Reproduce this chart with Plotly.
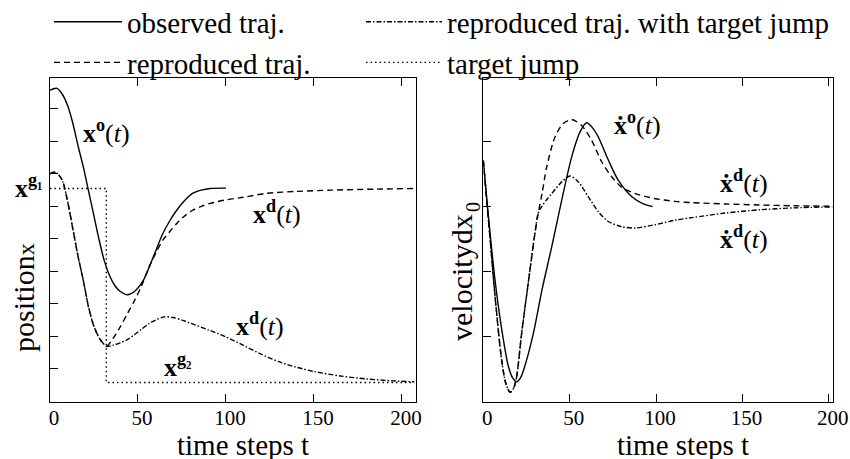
import plotly.graph_objects as go

# ---------------- data ----------------
# left panel: position
t_pos_obs = [0, 2, 4, 7, 10, 13, 16, 19, 22, 25, 28, 31, 34, 37, 40, 44, 48, 53, 58, 64, 68, 72, 76, 81, 86, 91, 100]
pos_obs = [9.57, 9.62, 9.63, 9.45, 9.1, 8.55, 7.85, 7.2, 6.45, 5.7, 4.95, 4.3, 3.85, 3.55, 3.38, 3.28, 3.38,
           3.72, 4.35, 5.15, 5.55, 5.88, 6.15, 6.4, 6.5, 6.55, 6.56]

t_pos_rep = [0, 2, 4, 7, 10, 13, 16, 19, 22, 25, 28, 30, 32, 36, 40, 44, 48, 52, 56, 60, 64, 68, 72, 76, 81,
             86, 91, 100, 110, 123, 140, 160, 185, 207]
pos_rep = [7.0, 7.05, 7.02, 6.8, 6.15, 5.3, 4.45, 3.7, 2.88, 2.3, 1.95, 1.8, 1.69, 1.95, 2.3, 2.7, 3.1, 3.55,
           4.1, 4.55, 4.95, 5.22, 5.47, 5.68, 5.88, 6.0, 6.09, 6.2, 6.28, 6.4, 6.46, 6.5, 6.53, 6.55]

t_pos_jump = [0, 2, 4, 7, 10, 13, 16, 19, 22, 25, 28, 30, 32, 36, 40, 44, 48, 52, 56, 60, 65, 70, 75, 80, 90,
              100, 110, 120, 130, 140, 150, 165, 180, 195, 207]
pos_jump = [7.0, 7.05, 7.02, 6.8, 6.15, 5.3, 4.45, 3.7, 2.88, 2.3, 1.95, 1.8, 1.69, 1.73, 1.8, 1.9, 2.05, 2.22,
            2.38, 2.5, 2.6, 2.58, 2.5, 2.4, 2.2, 1.98, 1.72, 1.45, 1.22, 1.05, 0.92, 0.78, 0.69, 0.63, 0.6]

t_target = [0, 32, 32, 207]
pos_target = [6.55, 6.55, 0.58, 0.58]

# right panel: velocity
t_vel_obs = [0, 3, 7, 11, 14.5, 17, 19.3, 21.5, 24, 29, 34, 39.6, 45.4, 51.2, 56, 59.8, 63, 66.6, 72.3, 78,
             86, 92, 98]
vel_obs = [0.71, -0.16, -1.18, -1.95, -2.46, -2.64, -2.7, -2.64, -2.46, -1.95, -1.28, -0.62, 0.1, 0.77, 1.15,
           1.29, 1.22, 1.07, 0.72, 0.41, 0.15, 0.05, 0.0]

t_vel_rep = [0, 4, 7, 10.6, 13, 15.5, 17.5, 19.3, 22.2, 26, 29.9, 31.8, 34, 36.7, 41.5, 46.3, 51.2, 56.9,
             62.7, 68.5, 74.3, 80, 88, 99, 111, 121, 140, 159, 180, 202]
vel_rep = [0.71, -0.52, -1.44, -2.36, -2.72, -2.86, -2.8, -2.62, -1.95, -1.18, -0.41, -0.1, 0.2, 0.61, 1.07,
           1.28, 1.34, 1.25, 1.02, 0.69, 0.46, 0.3, 0.2, 0.125, 0.08, 0.06, 0.04, 0.025, 0.012, 0.005]

t_vel_jump = [0, 4, 7, 10.6, 13, 15.5, 17.5, 19.3, 22.2, 26, 29.9, 31.8, 33.8, 36.5, 39.6, 45.4, 50.2, 55,
              60.8, 66.6, 72.3, 80.1, 87.8, 99.4, 111, 121, 140, 160, 180, 202]
vel_jump = [0.71, -0.52, -1.44, -2.36, -2.72, -2.86, -2.8, -2.62, -1.95, -1.18, -0.41, -0.1, 0.0, 0.1, 0.2,
            0.38, 0.47, 0.38, 0.15, -0.08, -0.23, -0.31, -0.33, -0.28, -0.21, -0.17, -0.1, -0.05, -0.02, -0.005]

x_ticks = [0, 50, 100, 150, 200]
pos_yticks = [1, 2, 3, 4, 5, 6, 7, 8, 9]
vel_yticks = [-2, -1, 0, 1]

legend_names = ["observed traj.", "reproduced traj.", "reproduced traj. with target jump", "target jump"]

# ---------------- styling ----------------
FONT = "Liberation Serif"
BLACK = "#000000"
DASH = "6px,4px"
DASHDOT = "5px,2px,1.5px,2px"
DOT = "1.5px,3px"
LW = 1.4

fig = go.Figure()

def add(t, y, name, dash, xa, ya, legend, show, shape="spline"):
    line = dict(color=BLACK, width=LW, dash=dash, shape=shape)
    if shape == "spline":
        line["smoothing"] = 0.8
    fig.add_trace(go.Scatter(
        x=t, y=y, mode="lines", name=name, xaxis=xa, yaxis=ya, line=line,
        legend=legend, showlegend=show, hoverinfo="skip"))

# left panel
add(t_pos_obs, pos_obs, legend_names[0], "solid", "x", "y", "legend", True)
add(t_pos_rep, pos_rep, legend_names[1], DASH, "x", "y", "legend", True)
add(t_pos_jump, pos_jump, legend_names[2], DASHDOT, "x", "y", "legend2", True)
add(t_target, pos_target, legend_names[3], DOT, "x", "y", "legend2", True, shape="linear")
# right panel
add(t_vel_obs, vel_obs, legend_names[0], "solid", "x2", "y2", "legend", False)
add(t_vel_rep, vel_rep, legend_names[1], DASH, "x2", "y2", "legend", False)
add(t_vel_jump, vel_jump, legend_names[2], DASHDOT, "x2", "y2", "legend2", False)

W, H = 850, 459
ybot = (H - 402) / H
ytop = (H - 78) / H

axis_common = dict(showgrid=False, zeroline=False, showline=True, linecolor=BLACK, linewidth=1.2,
                   ticks="inside", ticklen=8, tickwidth=1, tickcolor=BLACK, automargin=False,
                   tickfont=dict(family=FONT, size=21, color=BLACK))

fig.update_layout(
    width=W, height=H, margin=dict(l=0, r=0, t=0, b=0, autoexpand=False),
    paper_bgcolor="white", plot_bgcolor="white",
    font=dict(family=FONT, color=BLACK),
    xaxis=dict(domain=[50 / W, 416 / W], range=[0, 208], tickvals=x_ticks, mirror="ticks",
               anchor="y", ticklabelshift=4, ticklabelstandoff=-3, **axis_common),
    yaxis=dict(domain=[ybot, ytop], range=[-0.02, 9.95], tickvals=pos_yticks, showticklabels=False,
               mirror=True, anchor="x", **axis_common),
    xaxis2=dict(domain=[483.3 / W, 833 / W], range=[0, 202.4], tickvals=x_ticks, mirror="ticks",
                anchor="y2", ticklabelshift=4, ticklabelstandoff=-3, **axis_common),
    yaxis2=dict(domain=[ybot, ytop], range=[-3.01, 1.98], tickvals=vel_yticks, showticklabels=False,
                mirror=True, anchor="x2", **axis_common),
    legend=dict(x=49 / W, y=1.008, xanchor="left", yanchor="top", font=dict(family=FONT, size=29),
                bgcolor="rgba(0,0,0,0)", tracegroupgap=0, itemwidth=68, traceorder="normal"),
    legend2=dict(x=361 / W, y=1.008, xanchor="left", yanchor="top", font=dict(family=FONT, size=29),
                 bgcolor="rgba(0,0,0,0)", tracegroupgap=0, itemwidth=76, traceorder="normal"),
)

def ann(text, x, y, xref, yref, size=26, angle=0, xanchor="center", yanchor="middle"):
    fig.add_annotation(text=text, x=x, y=y, xref=xref, yref=yref, showarrow=False, textangle=angle,
                       xanchor=xanchor, yanchor=yanchor, font=dict(family=FONT, size=size, color=BLACK))

# curve labels (left)
ann("<b>x</b><sup><b>o</b></sup>(<i>t</i>)", 32, 8.3, "x", "y")
ann("<b>x</b><sup><b>d</b></sup>(<i>t</i>)", 129, 5.82, "x", "y")
ann("<b>x</b><sup><b>d</b></sup>(<i>t</i>)", 119.3, 2.37, "x", "y")
ann("<b>x</b><sup><b>g₁</b></sup>", 29 / W, (H - 186) / H, "paper", "paper", size=26)
ann("<b>x</b><sup><b>g₂</b></sup>", 73, 1.1, "x", "y", size=26)
# curve labels (right)
ann("<b>ẋ</b><sup><b>o</b></sup>(<i>t</i>)", 89.5, 1.28, "x2", "y2")
ann("<b>ẋ</b><sup><b>d</b></sup>(<i>t</i>)", 151, 0.38, "x2", "y2")
ann("<b>ẋ</b><sup><b>d</b></sup>(<i>t</i>)", 151, -0.47, "x2", "y2")

# axis titles
ann("time steps t", 243 / W, (H - 445) / H, "paper", "paper", size=29)
ann("time steps t", 683 / W, (H - 445) / H, "paper", "paper", size=29)
ann("position<span style='font-size:24px'>x</span>", 23 / W, (H - 298) / H, "paper", "paper", size=30, angle=-90)
ann("velocitydx", 462 / W, (H - 278) / H, "paper", "paper", size=30, angle=-90)
ann("0", 473 / W, (H - 207) / H, "paper", "paper", size=20, angle=-90)

fig.write_html("out.html")
